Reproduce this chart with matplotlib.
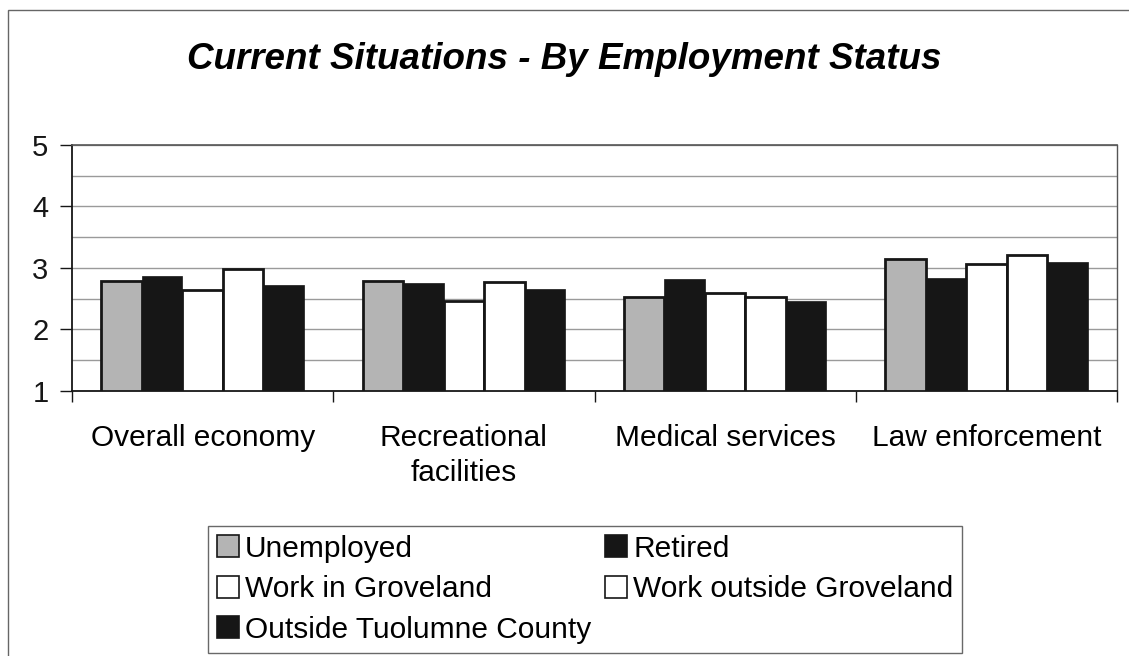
import matplotlib
matplotlib.use("Agg")
import matplotlib.pyplot as plt
import numpy as np
from matplotlib.patches import Rectangle

plt.rcParams['font.family'] = ['Liberation Sans', 'DejaVu Sans']

categories = ["Overall economy", "Recreational\nfacilities", "Medical services", "Law enforcement"]
series_names = ["Unemployed", "Retired", "Work in Groveland", "Work outside Groveland",
                "Outside Tuolumne County"]
unemployed = [2.79, 2.79, 2.52, 3.14]
retired = [2.87, 2.76, 2.82, 2.83]
work_in = [2.64, 2.46, 2.60, 3.07]
work_out = [2.99, 2.77, 2.53, 3.21]
outside_county = [2.72, 2.66, 2.47, 3.09]
series_values = [unemployed, retired, work_in, work_out, outside_county]
y_ticks = [1, 2, 3, 4, 5]

fills = ["#b4b4b4", "#161616", "white", "white", "#161616"]
edges = ["#161616", "#161616", "#161616", "#161616", "#161616"]
edge_widths = [2.0, 0.5, 2.0, 2.0, 0.5]

fig = plt.figure(figsize=(11.29, 6.56), dpi=100)
ax = fig.add_axes([0.0638, 0.404, 0.9256, 0.375])

x = np.arange(len(categories))
width = 0.155
offsets = (np.arange(len(series_names)) - 2) * width
for vals, off, fc, ec, lw, name in zip(series_values, offsets, fills, edges, edge_widths, series_names):
    ax.bar(x + off, np.array(vals) - 1, width=width, bottom=1, color=fc,
           edgecolor=ec, linewidth=lw, label=name, zorder=3)

ax.set_xlim(-0.5, len(categories) - 0.5)
ax.set_ylim(1, 5)
ax.set_yticks(y_ticks)
ax.set_yticks(np.arange(1.5, 5, 1), minor=True)
ax.yaxis.grid(True, which='both', color='#9a9a9a', linewidth=1.0, zorder=0)
ax.tick_params(axis='y', which='major', length=9, width=1, labelsize=21, pad=8, colors='#161616')
ax.tick_params(axis='y', which='minor', length=0)

ax.set_xticks(x)
ax.set_xticklabels(categories, fontsize=21.5, linespacing=1.3, va='top')
ax.set_xticks(np.arange(-0.5, len(categories), 1), minor=True)
ax.tick_params(axis='x', which='major', length=0, pad=24)
ax.tick_params(axis='x', which='minor', length=8, width=1, color='#161616')

for side in ['left', 'bottom']:
    ax.spines[side].set_linewidth(1.3)
    ax.spines[side].set_color('#161616')
ax.spines['top'].set_color('#555555')
ax.spines['right'].set_color('#555555')
ax.spines['top'].set_linewidth(1.2)
ax.spines['right'].set_linewidth(1.0)

fig.text(0.5, 0.91, "Current Situations - By Employment Status", ha='center', va='center',
         fontsize=26.5, fontweight='bold', fontstyle='italic')

# legend entries read across rows, two per row
handles, labels = ax.get_legend_handles_labels()
order = [0, 2, 4, 1, 3]
leg = fig.legend([handles[i] for i in order], [labels[i] for i in order],
                 loc='lower left', bbox_to_anchor=(0.184, 0.005),
                 ncol=2, fontsize=21.5, frameon=True, fancybox=False,
                 handlelength=0.75, handleheight=0.75, handletextpad=0.2,
                 labelspacing=0.42, borderpad=0.3, columnspacing=0.45, borderaxespad=0)
leg.get_frame().set_edgecolor('#444444')
leg.get_frame().set_linewidth(1.0)
for h in leg.legend_handles:
    h.set_edgecolor('#161616')
    h.set_linewidth(1.2)

# outer chart border
fig.add_artist(Rectangle((0.007, -0.01), 1.2, 0.995, transform=fig.transFigure,
                         fill=False, edgecolor='#666666', linewidth=1.0))

fig.savefig("out.png", dpi=100)
